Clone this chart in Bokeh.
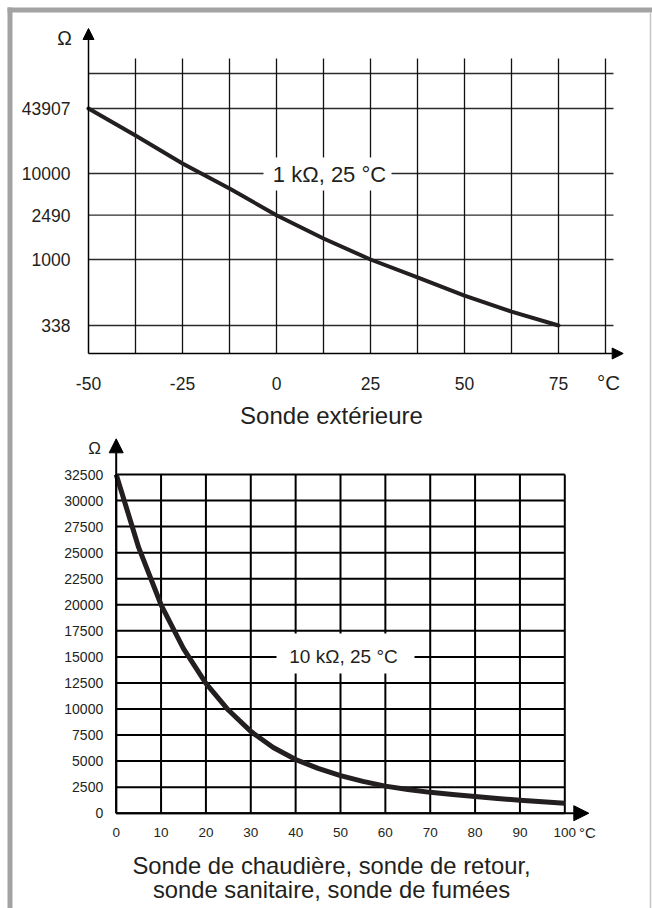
import numpy as np
from bokeh.plotting import figure
from bokeh.models import Range1d, Arrow, NormalHead
from bokeh.core.properties import value
from bokeh.embed import file_html
from bokeh.resources import INLINE

# ---------------- data: top chart (Sonde extérieure, 1 kΩ @ 25 °C) ----------------
top_temps = [-50, -37.5, -25, -12.5, 0, 12.5, 25, 37.5, 50, 62.5, 75]
top_ohms = [43907, 23750, 12560, 6060, 2490, 1540, 1000, 745, 553, 425, 338]
top_y_ticks = [43907, 10000, 2490, 1000, 338]
top_y_labels = ["43907", "10000", "2490", "1000", "338"]
top_x_ticks = [-50, -25, 0, 25, 50, 75]
top_x_labels = ["-50", "-25", "0", "25", "50", "75"]
top_x_grid = [-37.5, -25, -12.5, 0, 12.5, 25, 37.5, 50, 62.5, 75, 87.5]

# ---------------- data: bottom chart (10 kΩ @ 25 °C) ----------------
bot_temps = [0, 5, 10, 15, 20, 25, 30, 35, 40, 45, 50, 55, 60, 65, 70, 75, 80, 85, 90, 95, 100]
bot_ohms = [32500, 25500, 20000, 15800, 12450, 9900, 7850, 6300, 5150, 4300, 3600,
            3050, 2600, 2280, 2000, 1800, 1600, 1420, 1250, 1100, 960]
bot_y_ticks = [0, 2500, 5000, 7500, 10000, 12500, 15000, 17500, 20000, 22500,
               25000, 27500, 30000, 32500]
bot_y_labels = [str(v) for v in bot_y_ticks]
bot_x_ticks = [0, 10, 20, 30, 40, 50, 60, 70, 80, 90, 100]
bot_x_labels = [str(v) for v in bot_x_ticks]

# ---------------- layout (pixels of the picture) ----------------
W, H = 652, 908
X0, Y0 = 0, 0
FONT = value("Liberation Sans")
INK = "#231f20"

# top chart: schematic axis, pixel height above the x axis of each labelled value
T_AX_X, T_AX_Y = 88.0, 353.0
T_PX_PER_DEG = 3.76
T_LEVELS = [245, 180, 138.3, 94, 28]      # heights for top_y_ticks
T_TOP_GRID_LEVEL = 280
T_VGRID_TOP = 295

def top_level(ohms):
    lv = np.log10(np.array(top_y_ticks, dtype=float))[::-1]
    lev = np.array(T_LEVELS, dtype=float)[::-1]
    return np.interp(np.log10(np.asarray(ohms, dtype=float)), lv, lev)

# bottom chart: linear
B_AX_X, B_AX_Y = 115.7, 812.7
B_PX_PER_DEG = 4.486
B_PX_PER_OHM = 338.7 / 32500

p = figure(width=W, height=H, x_range=Range1d(X0, X0 + W), y_range=Range1d(Y0 + H, Y0),
           output_backend="svg", toolbar_location=None, min_border=0,
           x_axis_type=None, y_axis_type=None)
for g in p.grid:
    g.visible = False
p.outline_line_color = None
p.background_fill_color = "white"
p.border_fill_color = "white"

p.extra_x_ranges = {
    "t1": Range1d(top_temps[0] + (X0 - T_AX_X) / T_PX_PER_DEG,
                  top_temps[0] + (X0 + W - T_AX_X) / T_PX_PER_DEG),
    "t2": Range1d((X0 - B_AX_X) / B_PX_PER_DEG, (X0 + W - B_AX_X) / B_PX_PER_DEG),
}
p.extra_y_ranges = {
    "r1": Range1d(T_AX_Y - (Y0 + H), T_AX_Y - Y0),
    "r2": Range1d((B_AX_Y - (Y0 + H)) / B_PX_PER_OHM, (B_AX_Y - Y0) / B_PX_PER_OHM),
}

# ---------------- frame ----------------
p.quad(left=[7], right=[12], top=[7], bottom=[908], fill_color="#a3a3a3", line_color=None)
p.quad(left=[7], right=[652], top=[7], bottom=[12], fill_color="#a3a3a3", line_color=None)
p.segment(x0=[650], y0=[12], x1=[650], y1=[908], line_color="#c4c4c4", line_width=1.5)

# ---------------- top chart ----------------
tx_min = top_temps[0]
tx_grid_end = 87.5 + 8 / T_PX_PER_DEG
h_levels = list(top_level(top_y_ticks)) + [T_TOP_GRID_LEVEL]
p.segment(x0=[tx_min] * len(h_levels), y0=h_levels, x1=[tx_grid_end] * len(h_levels), y1=h_levels,
          line_color="#2b2b2b", line_width=1.3, x_range_name="t1", y_range_name="r1")
p.segment(x0=top_x_grid, y0=[0] * len(top_x_grid), x1=top_x_grid, y1=[T_VGRID_TOP] * len(top_x_grid),
          line_color="#111111", line_width=1.3, x_range_name="t1", y_range_name="r1")
p.add_layout(Arrow(x_start=tx_min, y_start=0, x_end=tx_min + (622.7 - T_AX_X) / T_PX_PER_DEG, y_end=0,
                   line_color="black", line_width=1.5,
                   end=NormalHead(size=11, fill_color="black", line_color="black", line_width=1),
                   x_range_name="t1", y_range_name="r1"))
p.add_layout(Arrow(x_start=tx_min, y_start=0, x_end=tx_min, y_end=T_AX_Y - 28,
                   line_color="black", line_width=1.5,
                   end=NormalHead(size=11, fill_color="black", line_color="black", line_width=1),
                   x_range_name="t1", y_range_name="r1"))
p.quad(left=[263], right=[391], top=[157], bottom=[190], fill_color="white", line_color=None)
p.text(x=[329], y=[174], text=["1 kΩ, 25 °C"], text_font=FONT, text_font_size="22px",
       text_color=INK, text_align="center", text_baseline="middle")
p.line(x=top_temps, y=top_level(top_ohms), line_color=INK, line_width=4, line_join="round",
       line_cap="round", x_range_name="t1", y_range_name="r1")
p.text(x=[tx_min] * len(top_y_ticks), y=top_level(top_y_ticks), text=top_y_labels, x_offset=-18,
       text_font=FONT, text_font_size="17.5px", text_color=INK, text_align="right",
       text_baseline="middle", x_range_name="t1", y_range_name="r1")
p.text(x=top_x_ticks, y=[0] * len(top_x_ticks), text=top_x_labels, y_offset=30,
       text_font=FONT, text_font_size="17.5px", text_color=INK, text_align="center",
       text_baseline="middle", x_range_name="t1", y_range_name="r1")
p.text(x=[608], y=[382], text=["°C"], text_font=FONT, text_font_size="20.5px", text_color=INK,
       text_align="center", text_baseline="middle")
p.text(x=[64], y=[37], text=["Ω"], text_font=FONT, text_font_size="19.5px", text_color=INK,
       text_align="center", text_baseline="middle")
p.text(x=[331], y=[415], text=["Sonde extérieure"], text_font=FONT, text_font_size="24px",
       text_color=INK, text_align="center", text_baseline="middle")

# ---------------- bottom chart ----------------
b_top = bot_y_ticks[-1]
p.segment(x0=[0] * len(bot_y_ticks), y0=bot_y_ticks, x1=[100] * len(bot_y_ticks), y1=bot_y_ticks,
          line_color="black", line_width=2, x_range_name="t2", y_range_name="r2")
p.segment(x0=bot_x_ticks, y0=[0] * len(bot_x_ticks), x1=bot_x_ticks, y1=[b_top] * len(bot_x_ticks),
          line_color="black", line_width=2, x_range_name="t2", y_range_name="r2")
p.add_layout(Arrow(x_start=0, y_start=0, x_end=(588.3 - B_AX_X) / B_PX_PER_DEG, y_end=0,
                   line_color="black", line_width=2,
                   end=NormalHead(size=15, fill_color="black", line_color="black", line_width=1),
                   x_range_name="t2", y_range_name="r2"))
p.add_layout(Arrow(x_start=0, y_start=0, x_end=0, y_end=(B_AX_Y - 438.3) / B_PX_PER_OHM,
                   line_color="black", line_width=2,
                   end=NormalHead(size=14, fill_color="black", line_color="black", line_width=1),
                   x_range_name="t2", y_range_name="r2"))
p.quad(left=[276], right=[414], top=[633], bottom=[673], fill_color="white", line_color=None)
p.text(x=[343], y=[656], text=["10 kΩ, 25 °C"], text_font=FONT, text_font_size="19px",
       text_color=INK, text_align="center", text_baseline="middle")
p.line(x=bot_temps, y=bot_ohms, line_color=INK, line_width=5, line_join="round",
       x_range_name="t2", y_range_name="r2")
p.text(x=[0] * len(bot_y_ticks), y=bot_y_ticks, text=bot_y_labels, x_offset=-13,
       text_font=FONT, text_font_size="14px", text_color=INK, text_align="right",
       text_baseline="middle", x_range_name="t2", y_range_name="r2")
p.text(x=bot_x_ticks, y=[0] * len(bot_x_ticks), text=bot_x_labels, y_offset=19,
       text_font=FONT, text_font_size="13.5px", text_color=INK, text_align="center",
       text_baseline="middle", x_range_name="t2", y_range_name="r2")
p.text(x=[587], y=[832], text=["°C"], text_font=FONT, text_font_size="15px", text_color=INK,
       text_align="center", text_baseline="middle")
p.text(x=[94], y=[448], text=["Ω"], text_font=FONT, text_font_size="17px", text_color=INK,
       text_align="center", text_baseline="middle")
p.text(x=[331, 331], y=[865, 889],
       text=["Sonde de chaudière, sonde de retour,", "sonde sanitaire, sonde de fumées"],
       text_font=FONT, text_font_size="23.8px", text_color=INK, text_align="center",
       text_baseline="middle")

open("out.html", "w").write(file_html(p, INLINE))
